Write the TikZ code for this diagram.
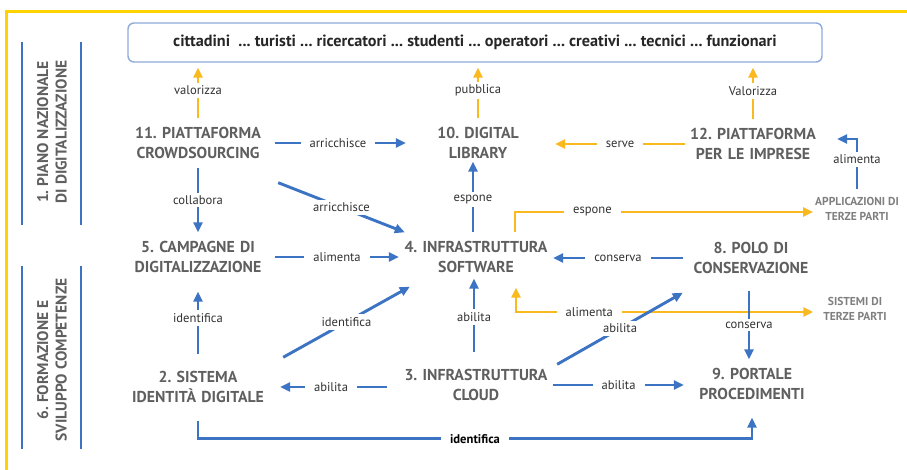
\documentclass[tikz,border=0pt]{standalone}
\usepackage{fontspec}
\setmainfont{PT Sans}
\usetikzlibrary{arrows.meta}

\definecolor{lineblue}{RGB}{60,115,195}
\definecolor{lineyellow}{RGB}{250,185,30}
\definecolor{frameyellow}{RGB}{255,210,0}
\definecolor{boxblue}{RGB}{143,170,220}
\definecolor{nodegray}{RGB}{95,95,95}
\definecolor{labelgray}{RGB}{50,50,50}

\tikzset{
    block/.style={font=\bfseries\fontsize{15.8}{19.5}\selectfont, text=nodegray, align=center,
        text width=#1, inner xsep=2pt, inner ysep=9pt},
    block/.default=150pt,
    extern/.style={font=\bfseries\fontsize{11.5}{15}\selectfont, text=nodegray!80, align=center, inner sep=2pt},
    sidetext/.style={rotate=90, font=\bfseries\fontsize{15.5}{18.5}\selectfont, text=nodegray, align=center},
    lbl/.style={fill=white, font=\fontsize{12.6}{14}\selectfont, text=labelgray, inner xsep=9pt, inner ysep=3pt},
    tip/.style={-{Triangle[length=10pt,width=9pt]}},
    blueline/.style={draw=lineblue, line width=2.9pt, tip},
    yellowline/.style={draw=lineyellow, line width=2.9pt, tip},
    sidebar/.style={draw=lineblue, line width=2.6pt}
}

\begin{document}
\frenchspacing
\begin{tikzpicture}[x=1pt, y=-1pt]
    \useasboundingbox (0,0) rectangle (907,470);
    \draw [frameyellow, line width=3pt] (907,12) -- (6,12) -- (6,470);

    \draw [sidebar] (22,42) -- (22,225);
    \draw [sidebar] (81,42) -- (81,225);
    \draw [sidebar] (22,266) -- (22,449);
    \draw [sidebar] (81,266) -- (81,449);
    \node [sidetext] (pnd) at (52,132) {1. PIANO NAZIONALE\\DI DIGITALIZZAZIONE};
    \node [sidetext] (form) at (52,360) {6. FORMAZIONE E\\SVILUPPO COMPETENZE};

    \node [draw=boxblue, line width=1.4pt, rounded corners=6pt, minimum width=694pt, minimum height=39pt,
        font=\bfseries\fontsize{16.2}{18}\selectfont, text=black!85] (users) at (475,42.5)
        {cittadini\ \ ... turisti ... ricercatori ... studenti ... operatori ... creativi ... tecnici ... funzionari};

    \node [block] (n11) at (198,143) {11. PIATTAFORMA\\CROWDSOURCING};
    \node [block] (n10) at (478,143) {10. DIGITAL\\LIBRARY};
    \node [block=132pt] (n12) at (753,144) {12. PIATTAFORMA\\PER LE IMPRESE};
    \node [block] (n5) at (198,257) {5. CAMPAGNE DI\\DIGITALIZZAZIONE};
    \node [block] (n4) at (476,257) {4. INFRASTRUTTURA\\SOFTWARE};
    \node [block=132pt] (n8) at (751,258) {8. POLO DI\\CONSERVAZIONE};
    \node [block] (n2) at (198,387) {2. SISTEMA\\IDENTITÀ DIGITALE};
    \node [block] (n3) at (476,385) {3. INFRASTRUTTURA\\CLOUD};
    \node [block=132pt] (n9) at (752,384) {9. PORTALE\\PROCEDIMENTI};
    \node [extern] (app) at (857,209) {APPLICAZIONI DI\\TERZE PARTI};
    \node [extern] (sys) at (855,309) {SISTEMI DI\\TERZE PARTI};

    \draw [yellowline, shorten >=5pt] (n11.north) -- node [lbl] {valorizza} (n11.north |- users.south);
    \draw [yellowline, shorten >=5pt] (n10.north) -- node [lbl] {pubblica} (n10.north |- users.south);
    \draw [yellowline, shorten >=5pt] (n12.north) -- node [lbl] {Valorizza} (n12.north |- users.south);
    \draw [yellowline] (n12.west) -- node [lbl] {serve} (n12.west -| n10.east);
    \draw [yellowline] ([xshift=39pt]n4.north) |- node [lbl, pos=0.63] {espone} ([yshift=-3pt]app.west);
    \draw [yellowline, {Triangle[length=10pt,width=9pt]}-{Triangle[length=10pt,width=9pt]}, shorten >=8pt]
        ([xshift=40pt,yshift=-6pt]n4.south) |- node [lbl, pos=0.62] {alimenta} ([yshift=-3pt]sys.west);

    \draw [blueline, shorten >=-5pt] (n11.east) -- node [lbl] {arricchisce} (n11.east -| n10.west);
    \draw [blueline] ([shift={(3pt,-15pt)}]n11.south east) -- node [lbl] {arricchisce} ([xshift=6pt]n4.north west);
    \draw [blueline] (n11.south) -- node [lbl] {collabora} (n5.north);
    \draw [blueline, shorten >=-6pt] ([xshift=-3pt]n4.north) -- node [lbl] {espone} ([xshift=-3pt]n4.north |- n10.south);
    \draw [blueline] ([yshift=6pt]app.north) |- node [lbl, pos=0.3] {alimenta} ([shift={(16pt,5pt)}]n12.east);
    \draw [blueline] (n5.east) -- node [lbl] {alimenta} (n5.east -| n4.west);
    \draw [blueline] (n8.west) -- node [lbl] {conserva} (n8.west -| n4.east);
    \draw [blueline, shorten >=10pt] ([yshift=8pt]n2.north) -- node [lbl] {identifica} (n2.north |- n5.south);
    \draw [blueline] ([shift={(8pt,5pt)}]n2.north east) -- node [lbl] {identifica} ([shift={(11pt,-5pt)}]n4.south west);
    \draw [blueline, shorten >=-3pt] ([shift={(-2pt,8pt)}]n3.north) -- node [lbl] {abilita} ([xshift=-2pt]n3.north |- n4.south);
    \draw [blueline] ([shift={(4pt,-4pt)}]n3.north east) -- node [lbl] {abilita} ([yshift=-10pt]n8.south west);
    \draw [blueline] ([shift={(-2pt,-8pt)}]n8.south) -- node [lbl] {conserva} ([xshift=-2pt]n8.south |- n9.north);
    \draw [blueline, shorten >=5pt] ([shift={(-12pt,-2pt)}]n3.west) -- node [lbl] {abilita} ([yshift=-2pt]n3.west -| n2.east);
    \draw [blueline] (n3.east) -- node [lbl] {abilita} (n3.east -| n9.west);
    \draw [blueline] ([yshift=-9pt]n2.south) -- ++(0,18) -| node [lbl, pos=0.25, font=\bfseries\fontsize{12.6}{14}\selectfont, text=black]
        {identifica} ([yshift=-9pt]n9.south);
\end{tikzpicture}
\end{document}
